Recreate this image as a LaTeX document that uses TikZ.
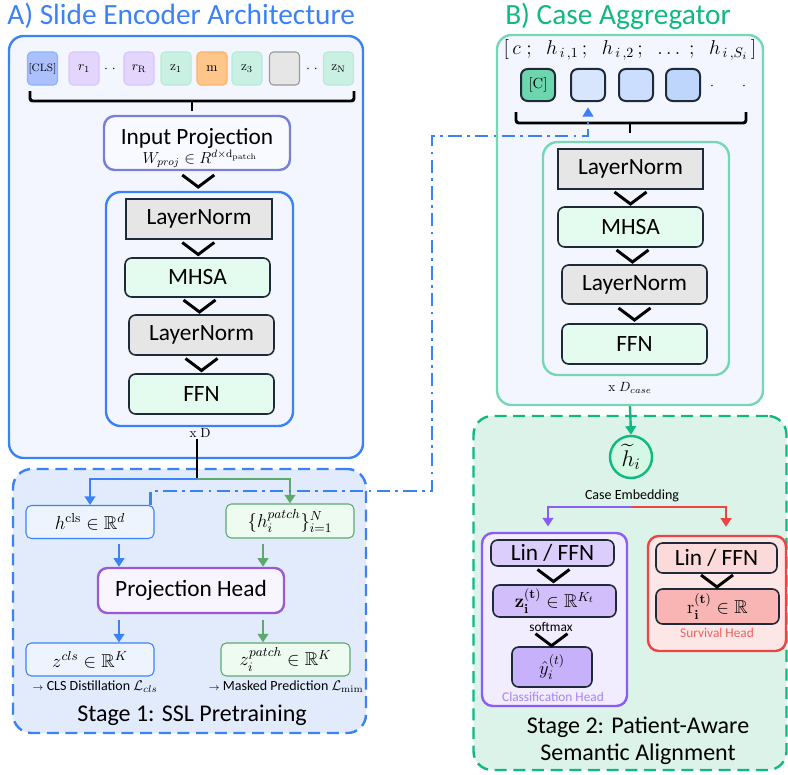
\RequirePackage{fix-cm}
\documentclass[tikz,border=0pt]{standalone}
\usepackage{amsmath,amssymb}
\usepackage[no-math]{fontspec}
\setmainfont{Carlito}
\usepackage{tikz}
\usetikzlibrary{positioning,arrows.meta,calc}
\definecolor{encblue}{HTML}{3B82F6}
\definecolor{panelfill}{HTML}{F3F6FE}
\definecolor{stageonefill}{HTML}{E1EBFB}
\definecolor{projline}{HTML}{7A7FD6}
\definecolor{headline}{HTML}{9B59D6}
\definecolor{headfill}{HTML}{F9F5FE}
\definecolor{clsfill}{HTML}{EEF4FE}
\definecolor{patchgreen}{HTML}{5DAA6E}
\definecolor{patchfill}{HTML}{EEFBF1}
\definecolor{modline}{HTML}{1E2A38}
\definecolor{lngray}{HTML}{E6E6E6}
\definecolor{mintfill}{HTML}{E4FBEF}
\definecolor{aggline}{HTML}{76D7B5}
\definecolor{stagegreen}{HTML}{10B981}
\definecolor{stagetwofill}{HTML}{DBF3E8}
\definecolor{embfill}{HTML}{D4F8E4}
\definecolor{casetok}{HTML}{6DD6AE}
\definecolor{headpurple}{HTML}{8B5CF6}
\definecolor{purplebg}{HTML}{F1ECFE}
\definecolor{survred}{HTML}{EF4444}
\definecolor{redbg}{HTML}{FDE6E6}
\newcommand{\pxu}{0.75pt}
\newcommand{\chev}[2]{%
  \coordinate (cm) at ($(#1.south)!0.5!(#2.north)$);
  \draw[chevron] ([shift={(-16,-6)}]cm) -- ([shift={(0,6)}]cm)
    -- ([shift={(16,-6)}]cm);}

\begin{document}
\begin{tikzpicture}[
  x=0.75pt, y=-0.75pt,
  title/.style={font=\fontsize{22}{25}\selectfont, inner sep=0pt},
  panel/.style={draw=#1, fill=panelfill, line width=1.8pt,
                rounded corners=11pt, inner sep=0pt},
  stagebox/.style={draw=#1, line width=1.8pt, rounded corners=14pt,
                   dash pattern=on 9pt off 5pt, inner sep=0pt},
  tok/.style={draw, line width=0.8pt, rounded corners=3pt, inner sep=0pt,
              minimum width=30*\pxu, minimum height=33*\pxu,
              font=\fontsize{10}{11}\selectfont},
  clstok/.style={tok, fill=blue!25!encblue!40, draw=encblue!60},
  regtok/.style={tok, fill=headpurple!25, draw=headpurple!35},
  ztok/.style={tok, fill=stagegreen!22, draw=stagegreen!30},
  masktok/.style={tok, fill=orange!45, draw=orange!60},
  padtok/.style={tok, fill=lngray, draw=black!40},
  htok/.style={draw=modline, line width=1.5pt, rounded corners=5pt,
               inner sep=0pt, minimum width=34*\pxu, minimum height=32*\pxu,
               font=\fontsize{11}{12}\selectfont},
  mod/.style={draw=modline, line width=1.2pt, rounded corners=5pt,
              inner sep=0pt, minimum width=145*\pxu, minimum height=40*\pxu,
              font=\fontsize{17.5}{20}\selectfont},
  lnbox/.style={mod, fill=lngray, rounded corners=0pt},
  lnround/.style={mod, fill=lngray},
  mint/.style={mod, fill=mintfill},
  vec/.style={draw=#1, line width=0.8pt, rounded corners=4pt, inner sep=0pt,
              minimum width=128*\pxu, minimum height=33*\pxu,
              font=\fontsize{14}{16}\selectfont},
  note/.style={font=\fontsize{10.5}{12}\selectfont, inner sep=1pt},
  small/.style={font=\fontsize{10}{11}\selectfont, inner sep=1pt},
  stagelab/.style={font=\fontsize{18}{20}\selectfont, align=center},
  chevron/.style={line width=2.2pt, black},
  brace/.style={line width=2.2pt, black, rounded corners=2pt},
  ar/.style={-{Triangle[width=8pt,length=6.5pt]}, line width=1.6pt},
  linkdash/.style={draw=encblue, line width=1.8pt,
                   dash pattern=on 10pt off 4pt on 2pt off 4pt,
                   -{Triangle[width=8pt,length=7pt]}, shorten >=4pt},
]
\useasboundingbox (0,0) rectangle (788,774);

% panels
\node[panel=encblue, minimum width=354*\pxu, minimum height=422*\pxu]
  (encA) at (186,247) {};
\node[panel=aggline, minimum width=266*\pxu, minimum height=370*\pxu]
  (caseBox) at (630,220) {};
\node[stagebox=encblue, fill=stageonefill, minimum width=353*\pxu,
      minimum height=264*\pxu] (stageA) at (189.5,601) {};
\node[stagebox=stagegreen, fill=stagetwofill, minimum width=313*\pxu,
      minimum height=354*\pxu] (stageB) at (630,593) {};

\node[title, text=encblue, anchor=west] (titleA) at (7,16)
  {A) Slide Encoder Architecture};
\node[title, text=stagegreen, anchor=west] (titleB) at (505,16)
  {B) Case Aggregator};

% slide tokens
\foreach \n/\x/\s/\lab in {tcls/42.5/clstok/{\fontsize{8}{9}\selectfont$\mathrm{[CLS]}$},
    tr1/84/regtok/{$r_1$}, trR/139/regtok/{$r_{\mathrm{R}}$},
    tz1/176/ztok/{$\mathrm{z}_1$}, tm/212/masktok/{$\mathrm{m}$},
    tz3/247/ztok/{$\mathrm{z}_3$}, tpad/284.5/padtok/{},
    tzN/338.5/ztok/{$\mathrm{z}_{\mathrm{N}}$}} {
  \node[\s] (\n) at (\x,68.5) {\lab};
}
\node[note] (dotsA) at (110,69) {$\cdot\;\cdot$};
\node[note] (dotsB) at (312,69) {$\cdot\;\cdot$};
\draw[brace] (30,91) |- (354,101) -- (354,91);
\draw[brace] (192,101) -- (192,111);

% input projection
\node[draw=projline, fill=white!50!panelfill, line width=1.8pt,
      rounded corners=8pt, minimum width=186*\pxu, minimum height=54*\pxu,
      inner sep=0pt, text depth=10pt, font=\fontsize{17.5}{18}\selectfont]
  (inproj) at (197,143) {Input Projection};
\node[font=\fontsize{12}{12}\selectfont, inner sep=0pt] (wproj) at (200,159)
  {$W_{proj}\in R^{d\times \mathrm{d}_{\mathrm{patch}}}$};

% encoder blocks
\node[panel=encblue, minimum width=187*\pxu, minimum height=234*\pxu]
  (trA) at (199.5,309) {};
\node[lnbox, minimum width=146*\pxu] (lnA1) at (199,219) {LayerNorm};
\node[mint, minimum height=39*\pxu] (mhsaA) at (197.5,277.5) {MHSA};
\node[lnround] (lnA2) at (201.5,335) {LayerNorm};
\node[mint] (ffnA) at (201.5,394) {FFN};
\chev{inproj}{trA}
\chev{lnA1}{mhsaA}
\chev{mhsaA}{lnA2}
\chev{lnA2}{ffnA}
\node[small] (xD) at (200,433) {$\mathrm{x}\;\mathrm{D}$};

% stage 1
\coordinate (split) at (197,479);
\coordinate (colL) at (119,0);
\coordinate (colR) at (263,0);
\node[vec=encblue, fill=clsfill] (hcls) at (90,522)
  {$h^{\mathrm{cls}}\in\mathbb{R}^{d}$};
\node[vec=patchgreen, fill=patchfill, minimum height=34*\pxu] (hpatch) at (290,521)
  {$\{h_i^{patch}\}_{i=1}^{N}$};
\node[draw=headline, fill=headfill, line width=1.8pt, rounded corners=7pt,
      minimum width=186*\pxu, minimum height=45*\pxu, inner sep=0pt,
      font=\fontsize{17.5}{20}\selectfont] (projhead) at (191,590.5) {Projection Head};
\node[vec=encblue, fill=clsfill] (zcls) at (90,659.5)
  {$z^{cls}\in\mathbb{R}^{K}$};
\node[vec=patchgreen, fill=patchfill, minimum width=129*\pxu] (zpatch) at (285.5,659.5)
  {$z_i^{patch}\in\mathbb{R}^{K}$};
\node[note] (lossA) at (95,687) {$\scriptstyle\rightarrow$ CLS Distillation $\mathcal{L}_{cls}$};
\node[note] (lossB) at (286,687) {$\scriptstyle\rightarrow$ Masked Prediction $\mathcal{L}_{\mathrm{mim}}$};
\node[stagelab] (stageAlab) at (192,715) {Stage 1: SSL Pretraining};

\draw[line width=1.8pt] (xD.south -| split) -- (split);
\draw[ar, encblue, line width=1.8pt] (split) -| (hcls.north);
\draw[ar, patchgreen, line width=1.8pt] (split) -| (hpatch.north);
\draw[ar, encblue, shorten <=4pt] (hcls.south -| colL) -- (projhead.north -| colL);
\draw[ar, patchgreen, shorten <=4pt] (hpatch.south -| colR) -- (projhead.north -| colR);
\draw[ar, encblue, shorten <=4pt] (projhead.south -| colL) -- (zcls.north -| colL);
\draw[ar, patchgreen, shorten <=4pt] (projhead.south -| colR) -- (zpatch.north -| colR);

% case tokens
\node[font=\fontsize{15}{17}\selectfont] (seq) at (630,50)
  {$[\,c\;;\;\;h_{\,i\,,1}\,;\;\;h_{\,i\,,2}\,;\;\;\dots\;;\;\;h_{\,i\,,S_i}\,]$};
\node[htok, fill=casetok] (tc) at (538,85) {$\mathrm{[C]}$};
\node[htok, fill=encblue!20] (th1) at (588,85) {};
\node[htok, fill=encblue!26] (th2) at (636,85) {};
\node[htok, fill=encblue!33] (th3) at (683,85) {};
\node[note] (dotsC) at (728,86) {$\cdot\qquad\cdot$};
\draw[brace] (516,112) |- (746,123) -- (746,112);
\draw[brace] (630,123) -- (630,133);

% aggregator blocks
\node[panel=aggline, minimum width=186*\pxu, minimum height=233*\pxu]
  (aggB) at (636,258.5) {};
\node[lnbox] (lnB1) at (630.5,169) {LayerNorm};
\node[mint] (mhsaB) at (630.5,227) {MHSA};
\node[lnround, minimum height=39*\pxu] (lnB2) at (634.5,284.5) {LayerNorm};
\node[mint] (ffnB) at (634.5,344) {FFN};
\chev{lnB1}{mhsaB}
\chev{mhsaB}{lnB2}
\chev{lnB2}{ffnB}
\node[small] (xDcase) at (630,388) {$\mathrm{x}\;D_{case}$};

% stage 2
\node[circle, draw=stagegreen, fill=embfill, line width=1.8pt,
      minimum size=42*\pxu, inner sep=0pt, font=\fontsize{17}{19}\selectfont]
  (caseEmb) at (631,457) {$\widetilde{h}_i$};
\node[note] (caseLab) at (632,496) {Case Embedding};
\draw[ar, stagegreen, line width=1.8pt] (caseBox.south) -- (caseEmb.north);
\coordinate (split2) at (632,507);
\coordinate (colP) at (548,0);
\coordinate (colS) at (726,0);

\node[draw=headpurple, fill=purplebg, line width=1.8pt, rounded corners=8pt,
      minimum width=145*\pxu, minimum height=173*\pxu, inner sep=0pt]
  (clsHead) at (554.5,619.5) {};
\node[mod, fill=headpurple!30, minimum width=123*\pxu, minimum height=26*\pxu]
  (linA) at (552.5,553) {Lin / FFN};
\node[mod, fill=headpurple!40, minimum width=123*\pxu, minimum height=32*\pxu,
      font=\fontsize{14}{16}\selectfont] (zbox) at (554.5,601)
  {$\mathbf{z}_{\mathbf{i}}^{(\mathbf{t})}\in\mathbb{R}^{K_t}$};
\node[small] (softmax) at (551,627) {softmax};
\node[mod, fill=headpurple!48, minimum width=80*\pxu, minimum height=40*\pxu,
      font=\fontsize{14}{16}\selectfont] (yhat) at (552,667) {$\hat{y}_i^{(t)}$};
\node[small, text=headpurple!75] (clsLab) at (553,697) {Classification Head};
\chev{linA}{zbox}
\chev{softmax}{yhat}

\node[draw=survred, fill=redbg, line width=1.8pt, rounded corners=8pt,
      minimum width=138*\pxu, minimum height=115*\pxu, inner sep=0pt]
  (survHead) at (717,593.5) {};
\node[mod, fill=survred!20, minimum width=121*\pxu, minimum height=30*\pxu]
  (linB) at (716.5,558) {Lin / FFN};
\node[mod, fill=survred!40, minimum width=123*\pxu, minimum height=35*\pxu,
      font=\fontsize{14}{16}\selectfont] (rbox) at (717.5,606.5)
  {$\mathrm{r}_{\mathbf{i}}^{(\mathbf{t})}\in\mathbb{R}$};
\node[small, text=survred!85] (survLab) at (717,633) {Survival Head};
\chev{linB}{rbox}

\draw[ar, headpurple, line width=1.8pt, shorten >=4pt] (split2) -| (clsHead.north -| colP);
\draw[ar, survred, line width=1.8pt, shorten >=6pt] (split2) -| (survHead.north -| colS);
\node[stagelab] (stageBlab) at (638,741) {Stage 2: Patient-Aware\\Semantic Alignment};

% link from the slide embedding into the case sequence
\draw[linkdash] ([xshift=-3pt]hcls.north east) -- ++(0,-14) -| (432,136) -| (th1.south);
\end{tikzpicture}
\end{document}
